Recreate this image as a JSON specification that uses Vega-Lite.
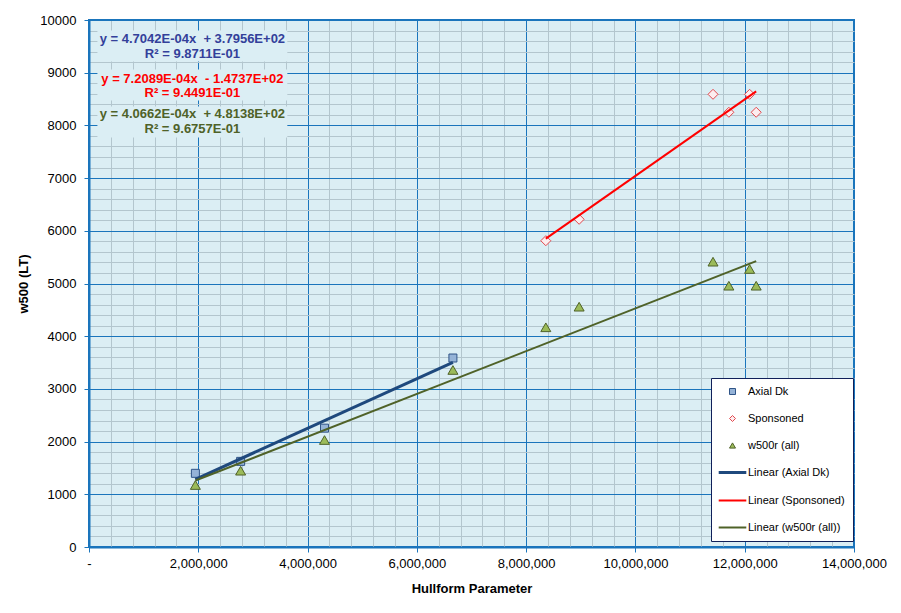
{
  "$schema": "https://vega.github.io/schema/vega-lite/v6.json",
  "width": 765,
  "height": 527,
  "autosize": {"type": "none"},
  "padding": {"left": 89, "top": 20, "right": 47, "bottom": 66},
  "background": "white",
  "config": {
    "font": "Liberation Sans",
    "view": {"fill": "#DBEEF4", "stroke": "#1A75BC", "strokeWidth": 2},
    "axis": {
      "labelFont": "Liberation Sans",
      "labelFontSize": 13,
      "labelColor": "#000000",
      "titleFont": "Liberation Sans",
      "titleFontSize": 13,
      "titleFontWeight": "bold",
      "titleColor": "#000000",
      "domainColor": "#1A75BC",
      "domainWidth": 2,
      "tickColor": "#1A75BC",
      "tickSize": 5,
      "tickWidth": 1,
      "labelFlush": false,
      "labelOverlap": false
    },
    "legend": {
      "orient": "none",
      "legendX": 622,
      "legendY": 358,
      "padding": 8,
      "fillColor": "#FFFFFF",
      "strokeColor": "#10205A",
      "symbolSize": 36,
      "symbolOffset": 8,
      "labelOffset": 10,
      "labelFont": "Liberation Sans",
      "labelFontSize": 11,
      "labelColor": "#000000",
      "rowPadding": 15,
      "labelLimit": 200
    }
  },
  "datasets": {
    "pts": [
      {"series": "Axial Dk", "trend": "Linear (Axial Dk)", "hp": 1947000, "w500": 1398},
      {"series": "Axial Dk", "trend": "Linear (Axial Dk)", "hp": 2775000, "w500": 1625},
      {"series": "Axial Dk", "trend": "Linear (Axial Dk)", "hp": 4310000, "w500": 2255},
      {"series": "Axial Dk", "trend": "Linear (Axial Dk)", "hp": 6660000, "w500": 3586},
      {"series": "Sponsoned", "trend": "Linear (Sponsoned)", "hp": 8360000, "w500": 5812},
      {"series": "Sponsoned", "trend": "Linear (Sponsoned)", "hp": 8970000, "w500": 6218},
      {"series": "Sponsoned", "trend": "Linear (Sponsoned)", "hp": 11420000, "w500": 8590},
      {"series": "Sponsoned", "trend": "Linear (Sponsoned)", "hp": 11710000, "w500": 8249},
      {"series": "Sponsoned", "trend": "Linear (Sponsoned)", "hp": 12090000, "w500": 8590},
      {"series": "Sponsoned", "trend": "Linear (Sponsoned)", "hp": 12210000, "w500": 8249},
      {"series": "w500r (all)", "trend": "Linear (w500r (all))", "hp": 1947000, "w500": 1176},
      {"series": "w500r (all)", "trend": "Linear (w500r (all))", "hp": 2775000, "w500": 1448},
      {"series": "w500r (all)", "trend": "Linear (w500r (all))", "hp": 4310000, "w500": 2030},
      {"series": "w500r (all)", "trend": "Linear (w500r (all))", "hp": 6660000, "w500": 3359},
      {"series": "w500r (all)", "trend": "Linear (w500r (all))", "hp": 8360000, "w500": 4169},
      {"series": "w500r (all)", "trend": "Linear (w500r (all))", "hp": 8970000, "w500": 4560},
      {"series": "w500r (all)", "trend": "Linear (w500r (all))", "hp": 11420000, "w500": 5414},
      {"series": "w500r (all)", "trend": "Linear (w500r (all))", "hp": 11710000, "w500": 4958},
      {"series": "w500r (all)", "trend": "Linear (w500r (all))", "hp": 12090000, "w500": 5275},
      {"series": "w500r (all)", "trend": "Linear (w500r (all))", "hp": 12210000, "w500": 4958}
    ],
    "boxes": [
      {"grp": "Axial Dk", "hp": 1892000, "w500": 9507},
      {"grp": "Sponsoned", "hp": 1892000, "w500": 8767},
      {"grp": "w500r (all)", "hp": 1892000, "w500": 8065}
    ],
    "eqs": [
      {"grp": "Axial Dk", "hp": 1892000, "w500": 9634, "label": "y = 4.7042E-04x\u00a0 + 3.7956E+02"},
      {"grp": "Axial Dk", "hp": 1892000, "w500": 9349, "label": "R² = 9.8711E-01"},
      {"grp": "Sponsoned", "hp": 1892000, "w500": 8886, "label": "y = 7.2089E-04x\u00a0 - 1.4737E+02"},
      {"grp": "Sponsoned", "hp": 1892000, "w500": 8620, "label": "R² = 9.4491E-01"},
      {"grp": "w500r (all)", "hp": 1892000, "w500": 8211, "label": "y = 4.0662E-04x\u00a0 + 4.8138E+02"},
      {"grp": "w500r (all)", "hp": 1892000, "w500": 7932, "label": "R² = 9.6757E-01"}
    ]
  },
  "layer": [
    {
      "data": {"name": "pts"},
      "mark": {"type": "point", "opacity": 0},
      "encoding": {
        "x": {
          "field": "hp", "type": "quantitative",
          "scale": {"domain": [0, 14000000], "nice": false, "zero": false},
          "axis": {
            "orient": "top", "title": null, "labels": false, "ticks": false, "domain": false,
            "grid": true, "gridColor": "#B3C6CE", "gridWidth": 1,
            "values": [400000,800000,1200000,1600000,2400000,2800000,3200000,3600000,4400000,4800000,5200000,5600000,6400000,6800000,7200000,7600000,8400000,8800000,9200000,9600000,10400000,10800000,11200000,11600000,12400000,12800000,13200000,13600000]
          }
        },
        "y": {
          "field": "w500", "type": "quantitative",
          "scale": {"domain": [0, 10000], "nice": false, "zero": false},
          "axis": {
            "orient": "right", "title": null, "labels": false, "ticks": false, "domain": false,
            "grid": true, "gridColor": "#B3C6CE", "gridWidth": 1,
            "values": [200,400,600,800,1200,1400,1600,1800,2200,2400,2600,2800,3200,3400,3600,3800,4200,4400,4600,4800,5200,5400,5600,5800,6200,6400,6600,6800,7200,7400,7600,7800,8200,8400,8600,8800,9200,9400,9600,9800]
          }
        }
      }
    },
    {
      "data": {"name": "pts"},
      "mark": {"type": "point", "opacity": 0},
      "encoding": {
        "x": {
          "field": "hp", "type": "quantitative",
          "axis": {
            "orient": "bottom", "title": "Hullform Parameter", "titlePadding": 12,
            "grid": true, "gridColor": "#1A75BC", "gridWidth": 1,
            "values": [0,2000000,4000000,6000000,8000000,10000000,12000000,14000000],
            "labelExpr": "datum.value == 0 ? '-' : format(datum.value, ',')",
            "labelPadding": 5
          }
        },
        "y": {
          "field": "w500", "type": "quantitative",
          "axis": {
            "orient": "left", "title": "w500 (LT)", "titlePadding": 9,
            "grid": true, "gridColor": "#1A75BC", "gridWidth": 1,
            "values": [0,1000,2000,3000,4000,5000,6000,7000,8000,9000,10000],
            "format": "d",
            "labelPadding": 8
          }
        }
      }
    },
    {
      "data": {"name": "boxes"},
      "mark": {"type": "point", "filled": true, "opacity": 1, "fill": "#DBEEF4", "strokeWidth": 0, "size": 900, "shape": "M-6.33,-1.03H6.33V1.03H-6.33Z"},
      "encoding": {
        "x": {"field": "hp", "type": "quantitative", "axis": null},
        "y": {"field": "w500", "type": "quantitative", "axis": null}
      }
    },
    {
      "data": {"name": "pts"},
      "mark": {"type": "point", "filled": true, "opacity": 1},
      "encoding": {
        "x": {"field": "hp", "type": "quantitative", "axis": null},
        "y": {"field": "w500", "type": "quantitative", "axis": null},
        "size": {"condition": {"test": "datum.series === 'Axial Dk'", "value": 64}, "value": 100},
        "shape": {
          "field": "series", "type": "nominal",
          "scale": {
            "domain": ["Axial Dk","Sponsoned","w500r (all)","Linear (Axial Dk)","Linear (Sponsoned)","Linear (w500r (all))"],
            "range": ["square","diamond","triangle-up","M-4.6,0H4.6","M-4.6,0H4.6","M-4.6,0H4.6"]
          },
          "legend": {"title": null}
        },
        "fill": {
          "field": "series", "type": "nominal",
          "scale": {
            "domain": ["Axial Dk","Sponsoned","w500r (all)","Linear (Axial Dk)","Linear (Sponsoned)","Linear (w500r (all))"],
            "range": ["#95B3D7","#FCEDEF","#9BBB59","transparent","transparent","transparent"]
          },
          "legend": {"title": null}
        },
        "stroke": {
          "field": "series", "type": "nominal",
          "scale": {
            "domain": ["Axial Dk","Sponsoned","w500r (all)","Linear (Axial Dk)","Linear (Sponsoned)","Linear (w500r (all))"],
            "range": ["#2F5487","#E3484D","#4F6228","#1F497D","#FF0000","#4F6228"]
          },
          "legend": {"title": null}
        },
        "strokeWidth": {
          "field": "series", "type": "nominal",
          "scale": {
            "type": "ordinal",
            "domain": ["Axial Dk","Sponsoned","w500r (all)","Linear (Axial Dk)","Linear (Sponsoned)","Linear (w500r (all))"],
            "range": [1,1,1,3,2,2]
          },
          "legend": {"title": null}
        }
      }
    },
    {
      "data": {"name": "pts"},
      "transform": [{"regression": "w500", "on": "hp", "groupby": ["trend"]}],
      "mark": {"type": "line"},
      "encoding": {
        "x": {"field": "hp", "type": "quantitative", "axis": null},
        "y": {"field": "w500", "type": "quantitative", "axis": null},
        "stroke": {
          "field": "trend", "type": "nominal",
          "scale": {
            "domain": ["Axial Dk","Sponsoned","w500r (all)","Linear (Axial Dk)","Linear (Sponsoned)","Linear (w500r (all))"],
            "range": ["#2F5487","#E3484D","#4F6228","#1F497D","#FF0000","#4F6228"]
          },
          "legend": {"title": null}
        },
        "strokeWidth": {
          "field": "trend", "type": "nominal",
          "scale": {
            "type": "ordinal",
            "domain": ["Axial Dk","Sponsoned","w500r (all)","Linear (Axial Dk)","Linear (Sponsoned)","Linear (w500r (all))"],
            "range": [1,1,1,3,2,2]
          },
          "legend": {"title": null}
        }
      }
    },
    {
      "data": {"name": "eqs"},
      "mark": {"type": "text", "fontWeight": "bold", "fontSize": 13, "align": "center", "baseline": "middle", "font": "Liberation Sans"},
      "encoding": {
        "x": {"field": "hp", "type": "quantitative", "axis": null},
        "y": {"field": "w500", "type": "quantitative", "axis": null},
        "text": {"field": "label", "type": "nominal"},
        "color": {
          "field": "grp", "type": "nominal",
          "scale": {"domain": ["Axial Dk","Sponsoned","w500r (all)"], "range": ["#33409A","#FF0000","#4F6228"]},
          "legend": null
        }
      }
    }
  ],
  "resolve": {"axis": {"x": "independent", "y": "independent"}}
}
